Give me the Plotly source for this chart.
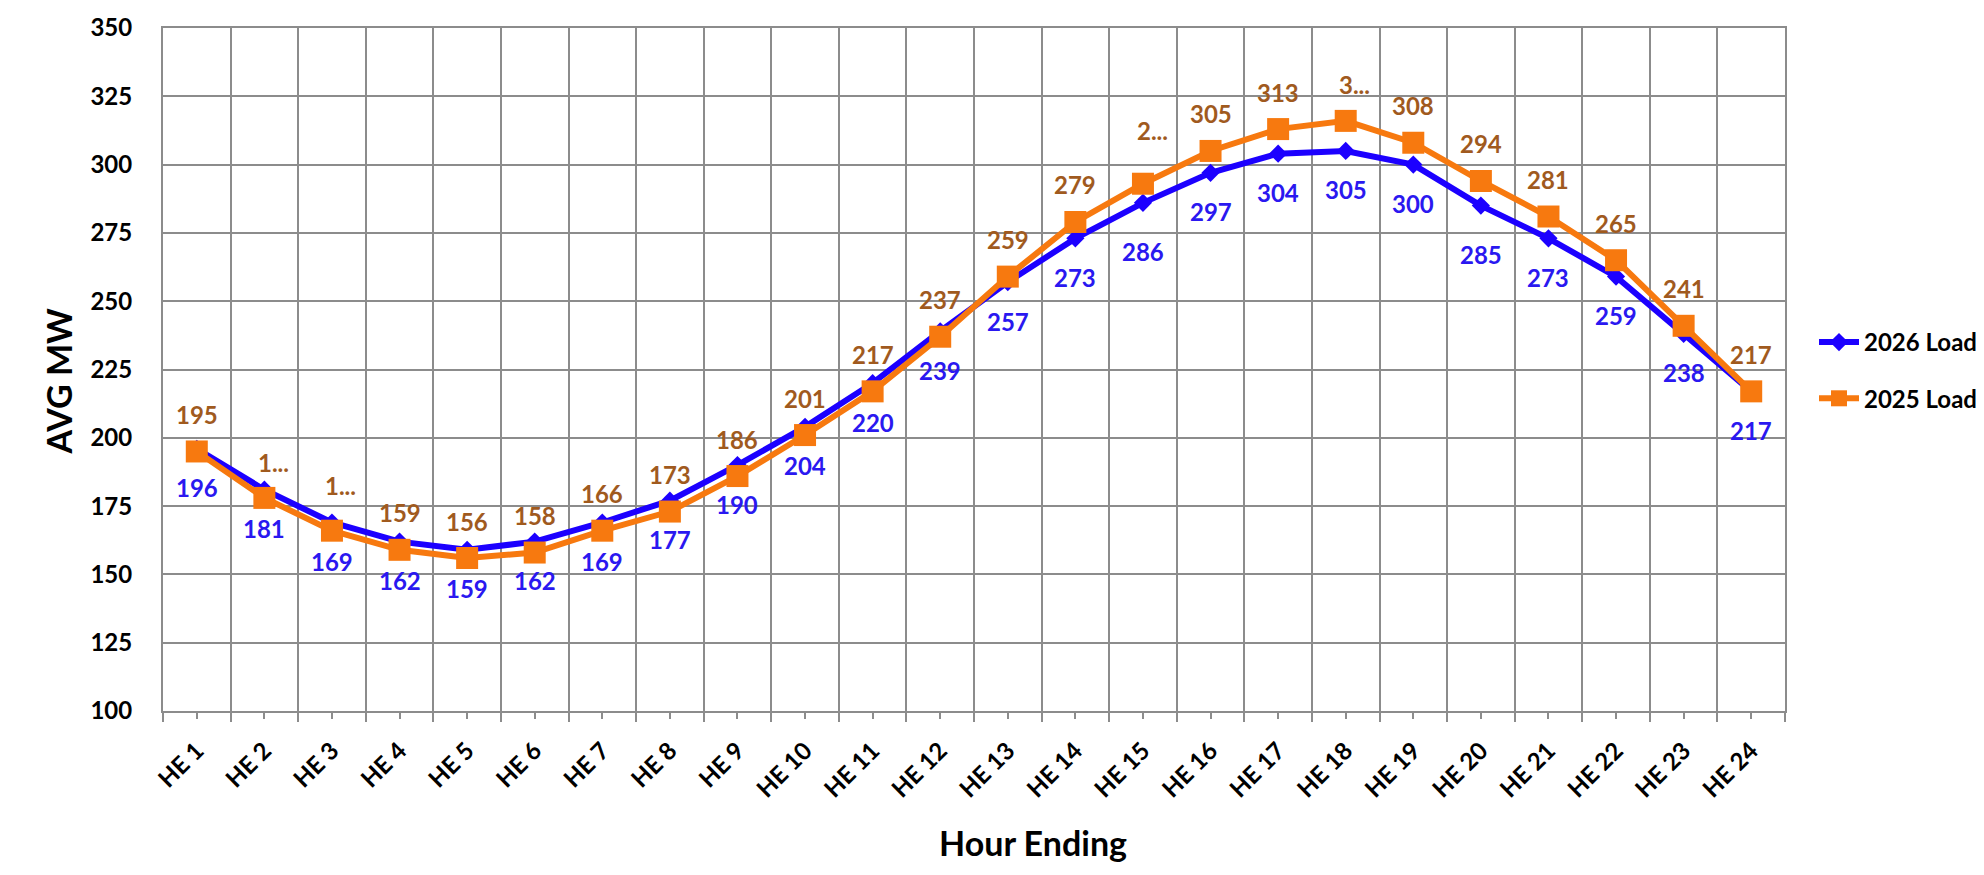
import plotly.graph_objects as go

categories = [f"HE {i}" for i in range(1, 25)]
load_2026 = [196, 181, 169, 162, 159, 162, 169, 177, 190, 204, 220, 239,
             257, 273, 286, 297, 304, 305, 300, 285, 273, 259, 238, 217]
load_2025 = [195, 178, 166, 159, 156, 158, 166, 173, 186, 201, 217, 237,
             259, 279, 293, 305, 313, 316, 308, 294, 281, 265, 241, 217]
# data labels exactly as shown on the chart (some truncated in the original)
labels_2026 = [str(v) for v in load_2026]
labels_2025 = [str(v) for v in load_2025]
labels_2025[1] = "1..."
labels_2025[2] = "1..."
labels_2025[14] = "2..."
labels_2025[17] = "3..."

# category positions on the axis (index of each category)
xpos = list(range(len(categories)))
boundaries = [i - 0.5 for i in range(len(categories) + 1)]

FONT = "Lato"
BLUE = "#1c00ff"
BLUE_TXT = "#2a18f0"
ORANGE = "#f7790f"
BROWN = "#a05a1e"
GRID = "#8c8c8c"

fig = go.Figure()
fig.add_trace(go.Scatter(
    x=xpos, y=load_2026, name="2026 Load", mode="lines+markers",
    line=dict(color=BLUE, width=6),
    marker=dict(symbol="diamond", size=14, color=BLUE),
    legendgroup="a", customdata=categories,
))
fig.add_trace(go.Scatter(
    x=xpos, y=load_2025, name="2025 Load", mode="lines+markers",
    line=dict(color=ORANGE, width=6),
    marker=dict(symbol="square", size=22, color=ORANGE),
    legendgroup="b", customdata=categories,
))

# label placement tweaks (style only)
shift_2025 = {1: (9, 35), 2: (9, 45), 14: (10, 53), 17: (9, 36)}
shift_2026 = {14: (0, -49), 19: (0, -49)}

annotations = []
for i, (x, v, t) in enumerate(zip(xpos, load_2026, labels_2026)):
    dx, dy = shift_2026.get(i, (0, -39))
    annotations.append(dict(x=x, y=v, text=t, showarrow=False, xshift=dx, yshift=dy,
                            font=dict(family=FONT, size=24, color=BLUE_TXT, weight="bold")))
for i, (x, v, t) in enumerate(zip(xpos, load_2025, labels_2025)):
    dx, dy = shift_2025.get(i, (0, 37))
    annotations.append(dict(x=x, y=v, text=t, showarrow=False, xshift=dx, yshift=dy,
                            font=dict(family=FONT, size=24, color=BROWN, weight="bold")))

# axis titles
annotations.append(dict(text="AVG MW", xref="paper", yref="paper",
                        x=(28 - 155) / 1622, y=(703 - 373) / 683, showarrow=False,
                        textangle=-90, font=dict(family=FONT, size=34, color="black", weight="bold")))
annotations.append(dict(text="Hour Ending", xref="paper", yref="paper",
                        x=(1025 - 155) / 1622, y=(703 - 857) / 683, showarrow=False,
                        font=dict(family=FONT, size=34, color="black", weight="bold")))

fig.update_layout(
    width=1984, height=875,
    margin=dict(l=155, r=207, t=20, b=172, autoexpand=False),
    paper_bgcolor="white", plot_bgcolor="white",
    font=dict(family=FONT, color="black"),
    annotations=annotations,
    showlegend=True,
    legend=dict(x=(1806 - 155) / 1622, y=(703 - 312) / 683, xanchor="left", yanchor="top",
                traceorder="grouped", tracegroupgap=22,
                font=dict(family=FONT, size=24, color="black", weight="bold"),
                bgcolor="rgba(0,0,0,0)", itemwidth=40),
    shapes=[dict(type="line", xref="paper", yref="paper",
                 x0=(1975 - 155) / 1622, x1=(1975 - 155) / 1622,
                 y0=-0.3, y1=1.1, line=dict(color="black", width=4))],
)
fig.update_xaxes(
    range=[-0.5, len(categories) - 0.5],
    tickmode="array", tickvals=xpos, ticktext=categories,
    ticks="outside", ticklen=6, tickwidth=2, tickcolor=GRID,
    showgrid=False, zeroline=False,
    minor=dict(tickmode="array", tickvals=boundaries, ticks="outside", ticklen=9,
               tickwidth=2, tickcolor=GRID, showgrid=True, gridcolor=GRID, gridwidth=2),
    showline=True, linecolor=GRID, linewidth=2, mirror=True,
    tickangle=-45, tickfont=dict(family=FONT, size=24, color="black", weight="bold"),
    ticklabelstandoff=8,
)
fig.update_yaxes(
    range=[100, 350], dtick=25, tick0=100, showgrid=True, gridcolor=GRID, gridwidth=2,
    showline=True, linecolor=GRID, linewidth=2, mirror=True, zeroline=False,
    ticks="", ticklabelstandoff=24,
    tickfont=dict(family=FONT, size=24, color="black", weight="bold"),
)

fig.write_html("out.html")
